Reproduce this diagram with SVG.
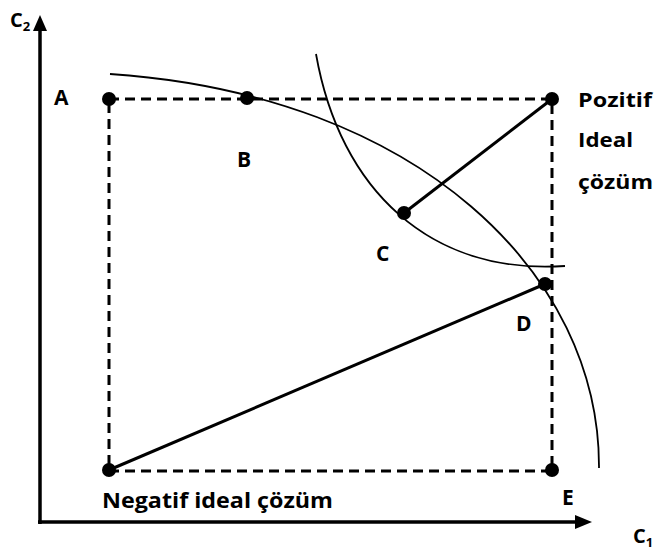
<svg xmlns="http://www.w3.org/2000/svg" width="656" height="551" viewBox="0 0 656 551">
<style>
.lbl{font-family:"Open Sans","Liberation Sans",sans-serif;font-weight:bold;fill:#000;}
.dash{stroke:#000;stroke-width:3;stroke-dasharray:10 6;fill:none;}
.solid{stroke:#000;stroke-width:3;fill:none;}
.curve{stroke:#000;stroke-width:1.8;fill:none;}
.dot{fill:#000;}
.axis{stroke:#000;stroke-width:3.5;fill:none;}
</style>
<rect width="656" height="551" fill="#fff"/>
<g id="connectors">
<line class="axis" x1="40" y1="524" x2="40" y2="28"/>
<polygon points="40,15 33,31 47,31" fill="#000"/>
<line class="axis" x1="38" y1="522" x2="578" y2="522"/>
<polygon points="592,522 575,515 575,529" fill="#000"/>
<path class="dash" d="M109,99 H552 V471 H109 Z"/>
<path class="curve" d="M110,74 C420,95 600,275 599,468"/>
<path class="curve" d="M316,54 C340,190 430,275 565,266"/>
<line class="solid" x1="552" y1="99" x2="404" y2="213"/>
<line class="solid" x1="109" y1="470" x2="545" y2="284"/>
</g>
<g id="axis-c2"><text class="lbl" x="10" y="27" font-size="20">C<tspan font-size="13" dy="4">2</tspan></text></g>
<g id="axis-c1"><text class="lbl" x="633" y="543" font-size="20">C<tspan font-size="13" dy="4">1</tspan></text></g>
<g id="A"><circle class="dot" cx="109" cy="99" r="7"/><text class="lbl" x="54" y="105" font-size="21">A</text></g>
<g id="B"><circle class="dot" cx="247" cy="98" r="7"/><text class="lbl" x="237" y="167" font-size="21">B</text></g>
<g id="C"><circle class="dot" cx="404" cy="213" r="7"/><text class="lbl" x="376" y="261" font-size="21">C</text></g>
<g id="D"><circle class="dot" cx="545" cy="284" r="7"/><text class="lbl" x="516" y="331" font-size="21">D</text></g>
<g id="E"><circle class="dot" cx="552" cy="470" r="7"/><text class="lbl" x="562" y="505" font-size="21">E</text></g>
<g id="pozitif"><circle class="dot" cx="552" cy="99" r="7"/>
<text class="lbl" x="578" y="107" font-size="19" textLength="74" lengthAdjust="spacingAndGlyphs">Pozitif</text>
<text class="lbl" x="578" y="147" font-size="19" textLength="55" lengthAdjust="spacingAndGlyphs">Ideal</text>
<text class="lbl" x="578" y="189" font-size="19" textLength="75" lengthAdjust="spacingAndGlyphs">çözüm</text></g>
<g id="negatif"><circle class="dot" cx="109" cy="470" r="7"/>
<text class="lbl" x="102" y="508" font-size="22" textLength="231" lengthAdjust="spacingAndGlyphs">Negatif ideal çözüm</text></g>
</svg>
